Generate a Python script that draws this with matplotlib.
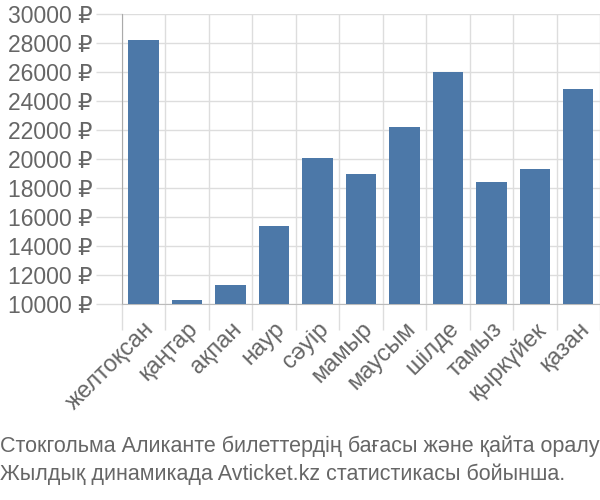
import numpy as np
import matplotlib.pyplot as plt

plt.rcParams['font.family'] = ['Liberation Sans', 'DejaVu Sans']

# Деректер
months = ["желтоқсан", "қаңтар", "ақпан", "наур", "сәуір", "мамыр",
          "маусым", "шілде", "тамыз", "қыркүйек", "қазан"]
prices = [28200, 10300, 11300, 15400, 20100, 19000,
          22200, 26000, 18400, 19300, 24800]
yticks = list(range(10000, 30001, 2000))

caption = ("Стокгольма Аликанте билеттердің бағасы және қайта оралу\n"
           "Жылдық динамикада Avticket.kz статистикасы бойынша.")

fig = plt.figure(figsize=(6, 5), dpi=100)
ax = fig.add_axes([0.203, 0.392, 0.797, 0.58])

x = np.arange(len(months))
ax.bar(x, [p - 10000 for p in prices], bottom=10000, width=0.7,
       color="#4c78a8", zorder=3)

ax.set_xlim(-0.5, len(months) - 0.5)
ax.set_ylim(10000, 30000)
ax.set_yticks(yticks)
ax.set_yticklabels([f"{t} ₽" for t in yticks])
ax.set_xticks(x)
ax.set_xticklabels(months, rotation=45, ha="right", rotation_mode="anchor")
ax.set_xticks(np.arange(-0.5, len(months)), minor=True)

ax.grid(True, axis="y", color="#dddddd", lw=1, zorder=0)
ax.grid(True, axis="x", which="minor", color="#dddddd", lw=1, zorder=0)
ax.tick_params(axis="x", which="major", length=0, pad=10, labelsize=17, labelcolor="#666666")
ax.tick_params(axis="x", which="minor", length=19, color="#dddddd", width=1)
ax.tick_params(axis="y", length=19, color="#dddddd", width=1, pad=2,
               labelsize=16.5, labelcolor="#666666")

for s in ["top", "right"]:
    ax.spines[s].set_visible(False)
ax.spines["left"].set_color("#aaaaaa")
ax.spines["left"].set_bounds(10000, 30000)
ax.spines["bottom"].set_color("#bbbbbb")

fig.text(0.0, 0.03, caption, fontsize=15.5, color="#666666",
         ha="left", va="bottom", linespacing=1.4)

fig.savefig("out.png")
